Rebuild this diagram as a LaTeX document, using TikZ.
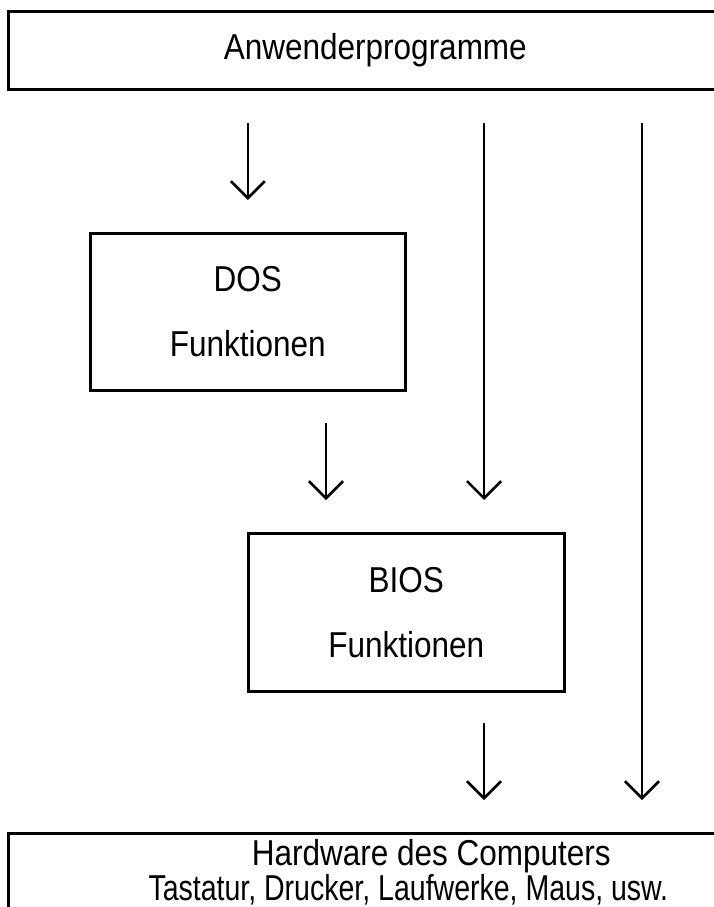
\documentclass[tikz,border=0pt]{standalone}
\usepackage{graphicx}
\usepackage{fontspec}
\setmainfont{Liberation Sans}[FakeStretch=0.875]
\usetikzlibrary{arrows.meta}
\tikzset{
  box/.style={draw, line width=2.7pt, inner sep=0pt, align=center, anchor=north west},
  arr/.style={line width=2.6pt, -{Straight Barb[length=17pt, width=34pt]},
              shorten <=32pt, shorten >=32pt},
  lbl/.style={font=\fontsize{36}{65}\selectfont},
}
\begin{document}
\begin{tikzpicture}[x=1pt, y=-1pt]
  \clip (0,0) rectangle (714,907);
  \fill[white] (0,0) rectangle (714,907);

  % layers
  \node[box, lbl, minimum width=734pt, minimum height=78pt] (app) at (7,10) {Anwenderprogramme};
  \node[box, lbl, minimum width=315pt, minimum height=157pt, text depth=-7pt] (dos) at (89,232) {DOS\\Funktionen};
  \node[box, lbl, minimum width=316pt, minimum height=158pt] (bios) at (247,532) {BIOS\\Funktionen};
  \node[box, font=\fontsize{36}{29}\selectfont, minimum width=800pt, minimum height=78pt] (hw) at (7,832)
    {\hspace*{46pt}Hardware des Computers\\\scalebox{0.905}[1]{Tastatur, Drucker, Laufwerke, Maus, usw.}};

  % calls between the layers
  \draw[arr] (app.south -| dos.north) -- (dos.north);
  \draw[arr] (app.south -| 484,0) -- (bios.north -| 484,0);
  \draw[arr] (app.south -| 642,0) -- (hw.north -| 642,0);
  \draw[arr, shorten <=31pt] (dos.south -| 326,0) -- (bios.north -| 326,0);
  \draw[arr, shorten <=30pt] (bios.south -| 484,0) -- (hw.north -| 484,0);
\end{tikzpicture}
\end{document}
